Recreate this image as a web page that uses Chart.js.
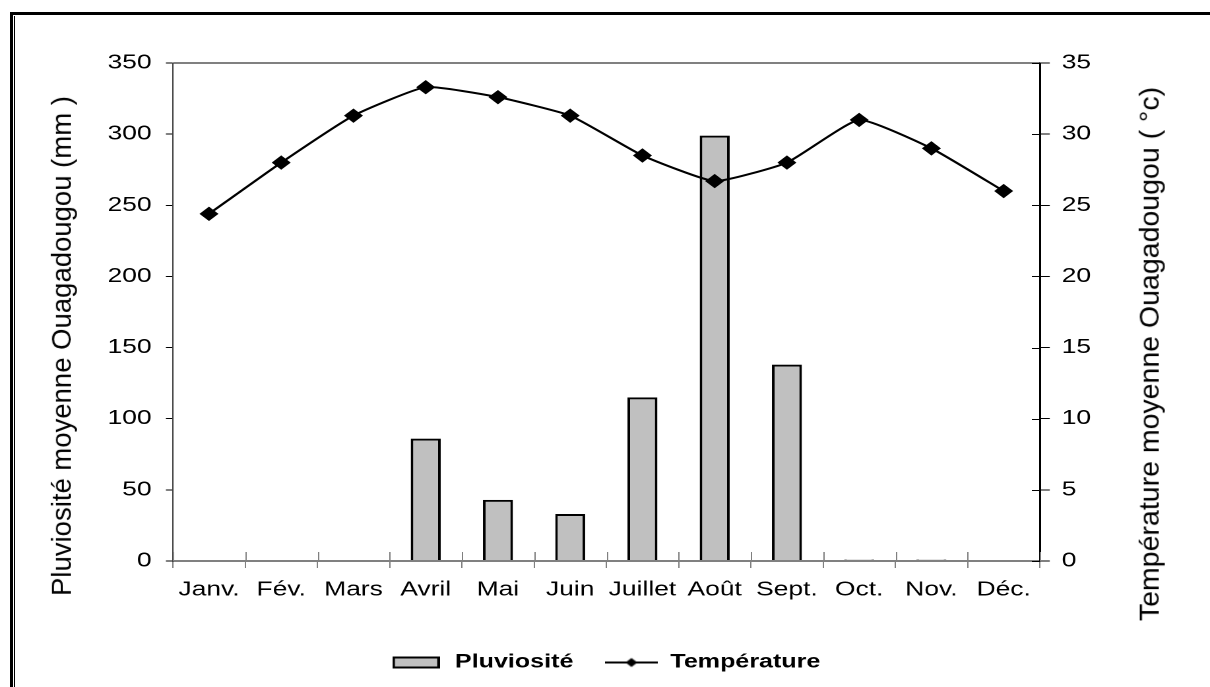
<!DOCTYPE html>
<html>
<head>
<meta charset="utf-8">
<script src="https://cdn.jsdelivr.net/npm/chart.js@4"></script>
<style>
  html, body { margin: 0; background: #fff; overflow: hidden; }
  body { width: 1210px; height: 687px; position: relative; }
  /* chart is drawn narrower then stretched sideways, like the reference */
  #wrap { position: absolute; left: 0; top: 0; width: 917px; height: 687px; transform: scaleX(1.3195); transform-origin: 0 0; }
  .frame { position: absolute; left: 10px; top: 12px; right: 0; bottom: 0; border-left: 3px solid #000; border-top: 3px solid #000; }
  .frame2 { position: absolute; left: 14px; top: 16px; width: 1px; bottom: 0; background: #000; }
  .anchor { position: absolute; width: 0; height: 0; }
  .ytitle { position: absolute; right: 0; top: 0; white-space: nowrap; font-family: "Liberation Sans", Arial, sans-serif; color: #000;
            transform: translate(50%, -50%) rotate(-90deg); }
</style>
</head>
<body>
<div class="frame"></div>
<div class="frame2"></div>
<div id="wrap"><canvas id="climChart"></canvas></div>
<div class="anchor" style="left:62px; top:346px;"><div class="ytitle" style="font-size:27.5px;">Pluviosité moyenne Ouagadougou (mm )</div></div>
<div class="anchor" style="left:1149px; top:354px;"><div class="ytitle" style="font-size:28.5px;">Température moyenne Ouagadougou ( °c)</div></div>
<script>
// Data
const months = ['Janv.', 'Fév.', 'Mars', 'Avril', 'Mai', 'Juin', 'Juillet', 'Août', 'Sept.', 'Oct.', 'Nov.', 'Déc.'];
const pluviosite = [0, 0, 0, 86, 43, 33, 115, 299, 138, 1, 1, 0];
const temperature = [24.4, 28.0, 31.3, 33.3, 32.6, 31.3, 28.5, 26.7, 28.0, 31.0, 29.0, 26.0];

Chart.defaults.font.family = '"Liberation Sans", Arial, sans-serif';
Chart.defaults.color = '#000';

// legend icons
function barIcon() {
    const c = document.createElement('canvas');
    c.width = 36; c.height = 12;
    const g = c.getContext('2d');
    g.fillStyle = '#c0c0c0';
    g.fillRect(1, 1, 34, 10);
    g.strokeStyle = '#000';
    g.lineWidth = 2;
    g.strokeRect(1, 1, 34, 10);
    return c;
}
function lineIcon() {
    const c = document.createElement('canvas');
    c.width = 40; c.height = 12;
    const g = c.getContext('2d');
    g.strokeStyle = '#000';
    g.lineWidth = 2;
    g.beginPath(); g.moveTo(0, 6); g.lineTo(40, 6); g.stroke();
    g.fillStyle = '#000';
    g.beginPath(); g.moveTo(20, 1.5); g.lineTo(24.5, 6); g.lineTo(20, 10.5); g.lineTo(15.5, 6); g.closePath(); g.fill();
    return c;
}

// ticks that cross the axis lines (inner part)
const innerTicks = {
    id: 'innerTicks',
    afterDatasetsDraw(chart) {
        const { ctx, scales: { x, y1 } } = chart;
        ctx.save();
        ctx.lineWidth = 1;
        ctx.strokeStyle = '#808080';
        ctx.beginPath();
        for (let i = 0; i <= months.length; i++) {
            const px = Math.round(x.getPixelForValue(i - 0.5)) + 0.5;
            ctx.moveTo(px, x.top);
            ctx.lineTo(px, x.top - 9);
        }
        ctx.stroke();
        ctx.strokeStyle = '#000';
        ctx.beginPath();
        y1.ticks.forEach(t => {
            const py = Math.round(y1.getPixelForValue(t.value)) + 0.5;
            ctx.moveTo(y1.left - 6, py);
            ctx.lineTo(y1.left, py);
        });
        ctx.stroke();
        ctx.restore();
    }
};

document.addEventListener('DOMContentLoaded', () => {
    const ctx = document.getElementById('climChart').getContext('2d');
    new Chart(ctx, {
        type: 'bar',
        data: {
            labels: months,
            datasets: [{
                type: 'line',
                label: 'Température',
                data: temperature,
                yAxisID: 'y1',
                borderColor: '#000',
                backgroundColor: '#000',
                borderWidth: 2,
                pointStyle: 'rectRot',
                pointRadius: 6.5,
                pointBorderWidth: 1,
                tension: 0.15,
                order: 0
            }, {
                label: 'Pluviosité',
                data: pluviosite,
                yAxisID: 'y',
                backgroundColor: '#c0c0c0',
                borderColor: '#000',
                borderWidth: 2,
                borderSkipped: 'bottom',
                categoryPercentage: 1,
                barPercentage: 0.415,
                order: 1
            }]
        },
        options: {
            responsive: true,
            maintainAspectRatio: false,
            animation: false,
            devicePixelRatio: 2,
            layout: { padding: { top: 63, left: 0, right: 0, bottom: 5 } },
            plugins: {
                tooltip: { enabled: false },
                legend: {
                    position: 'bottom',
                    labels: {
                        usePointStyle: true,
                        pointStyleWidth: 40,
                        padding: 24,
                        font: { size: 19, weight: 'bold' },
                        generateLabels: () => [
                            { text: 'Pluviosité', pointStyle: barIcon(), fontColor: '#000', hidden: false, datasetIndex: 1, lineWidth: 0 },
                            { text: 'Température', pointStyle: lineIcon(), fontColor: '#000', hidden: false, datasetIndex: 0, lineWidth: 0 }
                        ]
                    }
                }
            },
            scales: {
                x: {
                    offset: true,
                    afterFit: s => { s.height = 68; },
                    grid: { offset: true, drawOnChartArea: false, color: '#808080', tickLength: 7 },
                    border: { color: '#808080', width: 2 },
                    ticks: { font: { size: 20 }, padding: 10, maxRotation: 0, autoSkip: false }
                },
                y: {
                    position: 'left',
                    min: 0,
                    max: 350,
                    afterFit: s => { s.width = 131; },
                    grid: {
                        color: c => (c.tick && c.tick.value === 350) ? '#808080' : 'rgba(0,0,0,0)',
                        lineWidth: 2,
                        tickColor: '#000',
                        tickWidth: 1,
                        tickLength: 5.3
                    },
                    border: { color: '#404040', width: 1 },
                    ticks: { stepSize: 50, font: { size: 20 }, padding: 10.8 }
                },
                y1: {
                    position: 'right',
                    min: 0,
                    max: 35,
                    afterFit: s => { s.width = 129; },
                    grid: { drawOnChartArea: false, tickColor: '#000', tickLength: 7.6 },
                    border: { color: '#000', width: 1.5 },
                    ticks: { stepSize: 5, font: { size: 20 }, padding: 9 }
                }
            }
        },
        plugins: [innerTicks]
    });
});
</script>
</body>
</html>
